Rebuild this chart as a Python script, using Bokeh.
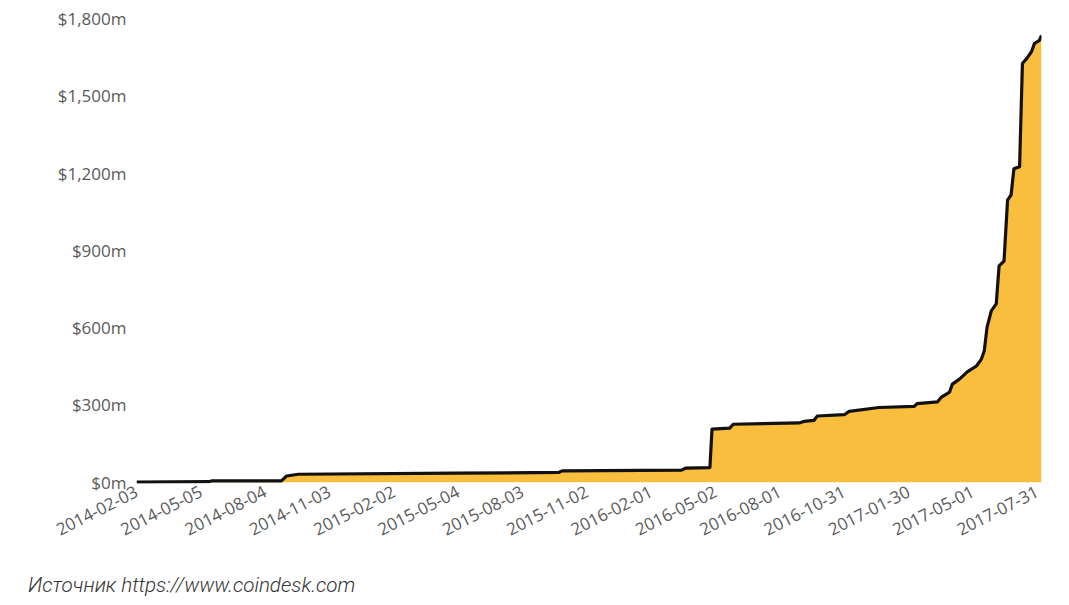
from datetime import datetime
from bokeh.plotting import figure
from bokeh.models import Range1d, FixedTicker, DatetimeTickFormatter, Div, ColumnDataSource
from bokeh.layouts import column
from bokeh.embed import file_html
from bokeh.resources import INLINE

# ---- data ----
dates = [
    "2014-02-03", "2014-05-16", "2014-05-20", "2014-08-27", "2014-09-03", "2014-09-20",
    "2015-05-01", "2015-09-23", "2015-09-28", "2016-03-15", "2016-03-21", "2016-04-24",
    "2016-04-27", "2016-05-22", "2016-05-27", "2016-08-28", "2016-09-04", "2016-09-18",
    "2016-09-23", "2016-10-31", "2016-11-07", "2016-12-19", "2017-02-07", "2017-02-11",
    "2017-03-12", "2017-03-17", "2017-03-29", "2017-04-02", "2017-04-12", "2017-04-23",
    "2017-05-06", "2017-05-13", "2017-05-17", "2017-05-21", "2017-05-27", "2017-06-03",
    "2017-06-07", "2017-06-14", "2017-06-19", "2017-06-24", "2017-06-28", "2017-07-06",
    "2017-07-10", "2017-07-17", "2017-07-23", "2017-07-27", "2017-08-03", "2017-08-06",
]
values_m = [
    0, 2, 5, 5, 24, 31,
    35, 38, 44, 47, 55, 57,
    206, 210, 225, 230, 236, 240,
    257, 262, 275, 290, 294, 305,
    312, 329, 350, 381, 400, 428,
    451, 478, 509, 602, 665, 692,
    840, 858, 1095, 1115, 1217, 1225,
    1625, 1648, 1672, 1703, 1715, 1734,
]
x_tick_labels = [
    "2014-02-03", "2014-05-05", "2014-08-04", "2014-11-03", "2015-02-02",
    "2015-05-04", "2015-08-03", "2015-11-02", "2016-02-01", "2016-05-02",
    "2016-08-01", "2016-10-31", "2017-01-30", "2017-05-01", "2017-07-31",
]
y_tick_values = [0, 300, 600, 900, 1200, 1500, 1800]
y_tick_labels = ["$0m", "$300m", "$600m", "$900m", "$1,200m", "$1,500m", "$1,800m"]
source_text = "Источник https://www.coindesk.com"

# ---- build ----
xs = [datetime.strptime(d, "%Y-%m-%d") for d in dates]
src = ColumnDataSource(dict(x=xs, y=values_m, y0=[0] * len(values_m)))

FONT = "Open Sans"
W, H = 1055, 560

p = figure(
    width=W, height=H, x_axis_type="datetime",
    output_backend="svg", toolbar_location=None,
    x_range=Range1d(xs[0], xs[-1]), y_range=Range1d(-5, 1800),
    min_border_left=136, min_border_right=W - 1041,
    min_border_top=18, min_border_bottom=H - 483,
)
p.outline_line_color = None
p.grid.grid_line_color = None
p.background_fill_color = "white"

p.varea(x="x", y1="y0", y2="y", source=src, fill_color="#F9BE3E", fill_alpha=1.0)
p.line(x="x", y="y", source=src, line_color="#111111", line_width=3.2, line_join="round")

tick_ms = [datetime.strptime(t, "%Y-%m-%d").timestamp() * 1000 for t in x_tick_labels]
p.xaxis.ticker = FixedTicker(ticks=tick_ms)
p.xaxis.formatter = DatetimeTickFormatter(
    days="%Y-%m-%d", months="%Y-%m-%d", years="%Y-%m-%d", hours="%Y-%m-%d",
)
p.xaxis.major_label_orientation = 0.47
p.xaxis.major_label_standoff = 7

p.yaxis.ticker = FixedTicker(ticks=y_tick_values)
p.yaxis.major_label_overrides = {v: l for v, l in zip(y_tick_values, y_tick_labels)}
p.yaxis.major_label_standoff = 10

for ax in (p.xaxis, p.yaxis):
    ax.axis_line_color = None
    ax.major_tick_line_color = None
    ax.minor_tick_line_color = None
    ax.major_tick_out = 0
    ax.major_tick_in = 0
    ax.major_label_text_font = FONT
    ax.major_label_text_font_size = "17px"
    ax.major_label_text_color = "#5a5a5a"

div = Div(
    text=source_text,
    margin=(13, 0, 0, 28),
    styles={"font-family": "Roboto", "font-style": "italic", "font-weight": "300",
            "font-size": "20.6px", "color": "#333333", "line-height": "25px"},
)

layout = column(p, div, spacing=0)
open("out.html", "w").write(file_html(layout, INLINE))
